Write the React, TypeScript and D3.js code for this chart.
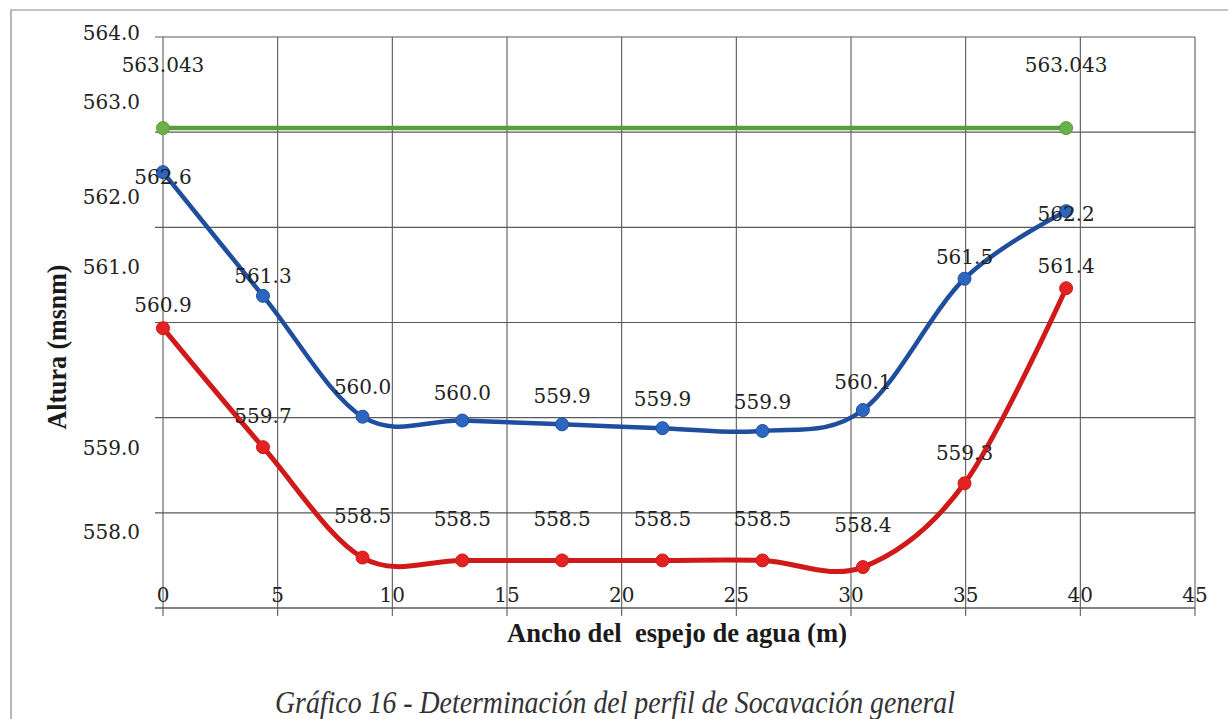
import React from "react";
import * as d3 from "d3";

// ---- data ----
const xPositions = [0, 4.36, 8.7, 13.05, 17.4, 21.78, 26.14, 30.52, 34.95, 39.38];
const blueValues = [562.58, 561.28, 560.01, 559.97, 559.93, 559.89, 559.86, 560.08, 561.46, 562.17];
const redValues = [560.94, 559.69, 558.53, 558.5, 558.5, 558.5, 558.5, 558.43, 559.31, 561.36];
const greenX = [0, 39.38];
const greenValues = [563.043, 563.043];

const xTicks = [0, 5, 10, 15, 20, 25, 30, 35, 40, 45];
const yGrid = [558, 559, 560, 561, 562, 563, 564];
const yTickLabels = ["564.0", "563.0", "562.0", "561.0", "559.0", "558.0"];
// where the (scanned) tick labels sit, in axis units
const yTickLabelAt = [564.04, 563.32, 562.32, 561.58, 559.68, 558.8];

const xTitle = "Ancho del  espejo de agua (m)";
const yTitle = "Altura (msnm)";
const caption = "Gráfico 16 - Determinación del perfil de Socavación general";

// label vertical offsets (px) as placed in the reference
const blueLabelDy = [5, -20, -30, -28, -28, -29, -29, -28, -22, 3];
const redLabelDy = [-23, -31, -42, -41, -41, -41, -41, -42, -30, -22];
const greenLabelDy = [-63, -63];

const W = 1228;
const H = 719;
const left = 163;
const right = 1195;
const top = 37;
const bottom = 608;

export default function App() {
  const x = d3.scaleLinear().domain([0, 45]).range([left, right]);
  const y = d3.scaleLinear().domain([558, 564]).range([bottom, top]);
  const curve = d3.curveCardinal.tension(0);

  const mk = (xs: number[], ys: number[], c: any) =>
    d3
      .line<number>()
      .x((_, i) => x(xs[i]))
      .y((v) => y(v))
      .curve(c)(ys) as string;

  const f1 = d3.format(".1f");
  const f3 = d3.format(".3f");
  const numFont = "'DejaVu Serif', serif";
  const labelColor = "#222";

  const series = [
    { xs: greenX, ys: greenValues, line: "#5a9e3a", dot: "#6cb04a", w: 4.5, dy: greenLabelDy, fmt: f3, curve: d3.curveLinear },
    { xs: xPositions, ys: blueValues, line: "#1f4e9e", dot: "#2c66c0", w: 4.5, dy: blueLabelDy, fmt: f1, curve },
    { xs: xPositions, ys: redValues, line: "#d01a1a", dot: "#e32222", w: 5, dy: redLabelDy, fmt: f1, curve },
  ];

  return (
    <svg
      width={W}
      height={H}
      viewBox={`0 0 ${W} ${H}`}
      style={{ position: "absolute", left: 0, top: 0, background: "#fff" }}
    >
      <rect x={0} y={0} width={W} height={H} fill="#fff" />
      {/* outer frame */}
      <path d={`M11,${H} V10 H${W}`} fill="none" stroke="#8a8a8a" strokeWidth={1.2} />

      {/* horizontal grid */}
      {yGrid.map((v) => (
        <line key={"h" + v} x1={left - 8} x2={right} y1={y(v)} y2={y(v)} stroke="#5a5a5a" strokeWidth={v === 558 ? 1.6 : 1.1} />
      ))}
      {/* vertical grid */}
      {xTicks.map((t) => (
        <line key={"v" + t} x1={x(t)} x2={x(t)} y1={top} y2={bottom + 8} stroke="#5a5a5a" strokeWidth={1.1} />
      ))}

      {/* y tick labels */}
      {yTickLabels.map((t, i) => (
        <text
          key={"yl" + t}
          x={140}
          y={y(yTickLabelAt[i])}
          textAnchor="end"
          dominantBaseline="central"
          fontFamily={numFont}
          fontSize={20}
          fill={labelColor}
        >
          {t}
        </text>
      ))}
      {/* x tick labels */}
      {xTicks.map((t) => (
        <text
          key={"xl" + t}
          x={x(t)}
          y={bottom - 13}
          textAnchor="middle"
          dominantBaseline="central"
          fontFamily={numFont}
          fontSize={20}
          fill={labelColor}
        >
          {t}
        </text>
      ))}

      {/* series */}
      {series.map((s, si) => (
        <g key={"s" + si}>
          <path d={mk(s.xs, s.ys, s.curve)} fill="none" stroke={s.line} strokeWidth={s.w} strokeLinejoin="round" />
          {s.ys.map((v, i) => (
            <circle key={i} cx={x(s.xs[i])} cy={y(v)} r={6.5} fill={s.dot} stroke={s.line} strokeWidth={1} />
          ))}
        </g>
      ))}
      {series.map((s, si) => (
        <g key={"l" + si}>
          {s.ys.map((v, i) => (
            <text
              key={i}
              x={x(s.xs[i])}
              y={y(v) + s.dy[i]}
              textAnchor="middle"
              dominantBaseline="central"
              fontFamily={numFont}
              fontSize={20}
              fill={labelColor}
            >
              {s.fmt(v)}
            </text>
          ))}
        </g>
      ))}

      {/* axis titles */}
      <text
        x={677}
        y={642}
        textAnchor="middle"
        fontFamily="'Liberation Serif', serif"
        fontWeight="bold"
        fontSize={28}
        textLength={340}
        lengthAdjust="spacingAndGlyphs"
        style={{ whiteSpace: "pre" }}
        fill="#1a1a1a"
      >
        {xTitle}
      </text>
      <text
        transform={`translate(66,347) rotate(-90)`}
        textAnchor="middle"
        fontFamily="'Liberation Serif', serif"
        fontWeight="bold"
        fontSize={27}
        textLength={165}
        lengthAdjust="spacingAndGlyphs"
        fill="#1a1a1a"
      >
        {yTitle}
      </text>

      {/* caption */}
      <text
        x={615}
        y={713}
        textAnchor="middle"
        fontFamily="'Liberation Serif', serif"
        fontStyle="italic"
        fontSize={31}
        textLength={680}
        lengthAdjust="spacingAndGlyphs"
        fill="#333"
      >
        {caption}
      </text>
    </svg>
  );
}
